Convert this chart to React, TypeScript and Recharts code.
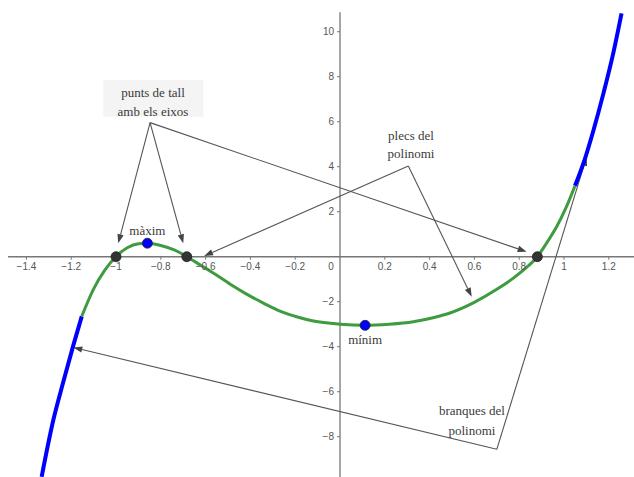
import React from 'react';
import { LineChart, Line, XAxis, YAxis, ReferenceLine, ReferenceDot, ReferenceArea } from 'recharts';

// curve samples, split into the two outer branches and the middle arc
const leftBranch = [
  { x: -1.332, y: -9.78 },
  { x: -1.28, y: -7.26 },
  { x: -1.235, y: -5.55 },
  { x: -1.191, y: -3.95 },
  { x: -1.153, y: -2.65 },
];

const middleArc = [
  { x: -1.153, y: -2.65 },
  { x: -1.101, y: -1.45 },
  { x: -1.05, y: -0.6 },
  { x: -1.001, y: 0 },
  { x: -0.95, y: 0.4 },
  { x: -0.9, y: 0.58 },
  { x: -0.86, y: 0.6 },
  { x: -0.8, y: 0.5 },
  { x: -0.74, y: 0.3 },
  { x: -0.684, y: 0 },
  { x: -0.62, y: -0.39 },
  { x: -0.566, y: -0.72 },
  { x: -0.49, y: -1.22 },
  { x: -0.417, y: -1.66 },
  { x: -0.34, y: -2.07 },
  { x: -0.268, y: -2.42 },
  { x: -0.19, y: -2.68 },
  { x: -0.119, y: -2.86 },
  { x: 0, y: -3.0 },
  { x: 0.112, y: -3.05 },
  { x: 0.22, y: -3.0 },
  { x: 0.327, y: -2.89 },
  { x: 0.42, y: -2.7 },
  { x: 0.491, y: -2.5 },
  { x: 0.595, y: -2.05 },
  { x: 0.7, y: -1.45 },
  { x: 0.774, y: -0.95 },
  { x: 0.83, y: -0.5 },
  { x: 0.881, y: 0 },
  { x: 0.925, y: 0.65 },
  { x: 0.967, y: 1.33 },
  { x: 1.01, y: 2.2 },
  { x: 1.049, y: 3.15 },
];

const rightBranch = [
  { x: 1.049, y: 3.15 },
  { x: 1.09, y: 4.25 },
  { x: 1.131, y: 5.6 },
  { x: 1.176, y: 7.26 },
  { x: 1.22, y: 9.05 },
  { x: 1.257, y: 10.82 },
];

const roots = [-1.0, -0.684, 0.881];
const maxim = { x: -0.86, y: 0.6 };
const minim = { x: 0.112, y: -3.05 };

const xTicks = [-1.4, -1.2, -1, -0.8, -0.6, -0.4, -0.2, 0, 0.2, 0.4, 0.6, 0.8, 1, 1.2];
const yTicks = [-8, -6, -4, -2, 2, 4, 6, 8, 10];

// annotation texts and their arrows (apex -> targets), in graph units
const tallText = ['punts de tall', 'amb els eixos'];
const tallAt = { x: -0.835, y: 7.32 };
const tallApex = { x: -0.848, y: 5.96 };
const tallTargets = [
  { x: -0.99, y: 0.6 },
  { x: -0.7, y: 0.6 },
  { x: 0.833, y: 0.22 },
];

const plecsText = ['plecs del', 'polinomi'];
const plecsAt = { x: 0.317, y: 5.41 };
const plecsApex = { x: 0.305, y: 4.03 };
const plecsTargets = [
  { x: -0.607, y: 0.03 },
  { x: 0.588, y: -1.78 },
];

const branquesText = ['branques del', 'polinomi'];
const branquesAt = { x: 0.589, y: -6.84 };
const branquesApex = { x: 0.7, y: -8.56 };
const branquesTargets = [
  { x: -1.191, y: -4.03 },
  { x: 1.101, y: 4.44 },
];

const X_DOMAIN = [-1.518, 1.3125];
const Y_DOMAIN = [-9.79, 11.41];

const fmt = (v: number) => String(v).replace('-', '\u2212');

const Arrow = (props: any) => {
  const { x1, y1, x2, y2 } = props;
  const a = Math.atan2(y2 - y1, x2 - x1);
  const len = 9;
  const w = 3.2;
  const bx = x2 - len * Math.cos(a);
  const by = y2 - len * Math.sin(a);
  const px = -Math.sin(a) * w;
  const py = Math.cos(a) * w;
  return (
    <g>
      <line x1={x1} y1={y1} x2={bx} y2={by} stroke="#555" strokeWidth={1.1} />
      <polygon points={`${x2},${y2} ${bx + px},${by + py} ${bx - px},${by - py}`} fill="#444" />
    </g>
  );
};

const textBlock = (lines: string[], gap: number) => (p: any) => (
  <g>
    {lines.map((t, i) => (
      <text
        key={t}
        x={p.cx}
        y={p.cy + i * gap}
        textAnchor="middle"
        dominantBaseline="central"
        fontFamily="'Liberation Serif', serif"
        fontSize={13}
        fill="#3a3a3a"
      >
        {t}
      </text>
    ))}
  </g>
);

const xTickShape = (v: number) => (p: any) => (
  <g>
    {v !== 0 && <line x1={p.cx} y1={p.cy} x2={p.cx} y2={p.cy + 3} stroke="#777" />}
    <text
      x={v === 0 ? p.cx - 9 : p.cx}
      y={p.cy + 10}
      textAnchor="middle"
      dominantBaseline="central"
      fontFamily="'Liberation Sans', Arial, sans-serif"
      fontSize={10}
      fill="#555"
    >
      {fmt(v)}
    </text>
  </g>
);

const yTickShape = (v: number) => (p: any) => (
  <g>
    <line x1={p.cx - 3} y1={p.cy} x2={p.cx} y2={p.cy} stroke="#777" />
    <text
      x={p.cx - 6}
      y={p.cy}
      textAnchor="end"
      dominantBaseline="central"
      fontFamily="'Liberation Sans', Arial, sans-serif"
      fontSize={10}
      fill="#555"
    >
      {fmt(v)}
    </text>
  </g>
);

const dotShape = (fill: string) => (p: any) => (
  <circle cx={p.cx} cy={p.cy} r={5} fill={fill} stroke="#222" strokeWidth={0.8} />
);

const labelShape = (t: string, dy: number) => (p: any) => (
  <text
    x={p.cx}
    y={p.cy + dy}
    textAnchor="middle"
    dominantBaseline="central"
    fontFamily="'Liberation Serif', serif"
    fontSize={13}
    fill="#3a3a3a"
  >
    {t}
  </text>
);

const arrowsFrom = (apex: { x: number; y: number }, targets: { x: number; y: number }[], key: string) =>
  targets.map((t, i) => (
    <ReferenceLine
      key={`${key}-${i}`}
      segment={[apex, t]}
      ifOverflow="visible"
      shape={Arrow}
    />
  ));

export default function App() {
  return (
    <div style={{ position: 'absolute', left: 0, top: 0, background: '#fff' }}>
      <LineChart width={634} height={477} margin={{ top: 0, right: 0, bottom: 0, left: 0 }}>
        <XAxis type="number" dataKey="x" domain={X_DOMAIN} allowDataOverflow hide />
        <YAxis type="number" dataKey="y" domain={Y_DOMAIN} allowDataOverflow hide />

        <ReferenceArea x1={-1.057} x2={-0.61} y1={6.22} y2={7.85} fill="#f4f4f4" fillOpacity={1} stroke="none" />

        {/* axes through the origin */}
        <ReferenceLine segment={[{ x: -1.482, y: 0 }, { x: 1.3125, y: 0 }]} stroke="#777" strokeWidth={1.3} ifOverflow="visible" />
        <ReferenceLine segment={[{ x: 0, y: 10.87 }, { x: 0, y: -9.79 }]} stroke="#777" strokeWidth={1.3} ifOverflow="visible" />
        {xTicks.map((v) => (
          <ReferenceDot key={`xt${v}`} x={v} y={0} r={0} ifOverflow="visible" shape={xTickShape(v)} />
        ))}
        {yTicks.map((v) => (
          <ReferenceDot key={`yt${v}`} x={0} y={v} r={0} ifOverflow="visible" shape={yTickShape(v)} />
        ))}

        {arrowsFrom(tallApex, tallTargets, 'tall')}
        {arrowsFrom(plecsApex, plecsTargets, 'plecs')}
        {arrowsFrom(branquesApex, branquesTargets, 'branques')}

        <Line data={leftBranch} dataKey="y" type="monotone" stroke="#0000ff" strokeWidth={4} dot={false} activeDot={false} isAnimationActive={false} />
        <Line data={middleArc} dataKey="y" type="monotone" stroke="#3f9b3f" strokeWidth={3} dot={false} activeDot={false} isAnimationActive={false} />
        <Line data={rightBranch} dataKey="y" type="monotone" stroke="#0000ff" strokeWidth={4} dot={false} activeDot={false} isAnimationActive={false} />

        {roots.map((r) => (
          <ReferenceDot key={`r${r}`} x={r} y={0} r={5} ifOverflow="visible" shape={dotShape('#333')} />
        ))}
        <ReferenceDot x={maxim.x} y={maxim.y} r={5} ifOverflow="visible" shape={dotShape('#0000ff')} />
        <ReferenceDot x={minim.x} y={minim.y} r={5} ifOverflow="visible" shape={dotShape('#0000ff')} />
        <ReferenceDot x={maxim.x} y={maxim.y} r={0} ifOverflow="visible" shape={labelShape('màxim', -13)} />
        <ReferenceDot x={minim.x} y={minim.y} r={0} ifOverflow="visible" shape={labelShape('mínim', 14)} />

        <ReferenceDot x={tallAt.x} y={tallAt.y} r={0} ifOverflow="visible" shape={textBlock(tallText, 19)} />
        <ReferenceDot x={plecsAt.x} y={plecsAt.y} r={0} ifOverflow="visible" shape={textBlock(plecsText, 18.5)} />
        <ReferenceDot x={branquesAt.x} y={branquesAt.y} r={0} ifOverflow="visible" shape={textBlock(branquesText, 20)} />
      </LineChart>
    </div>
  );
}
